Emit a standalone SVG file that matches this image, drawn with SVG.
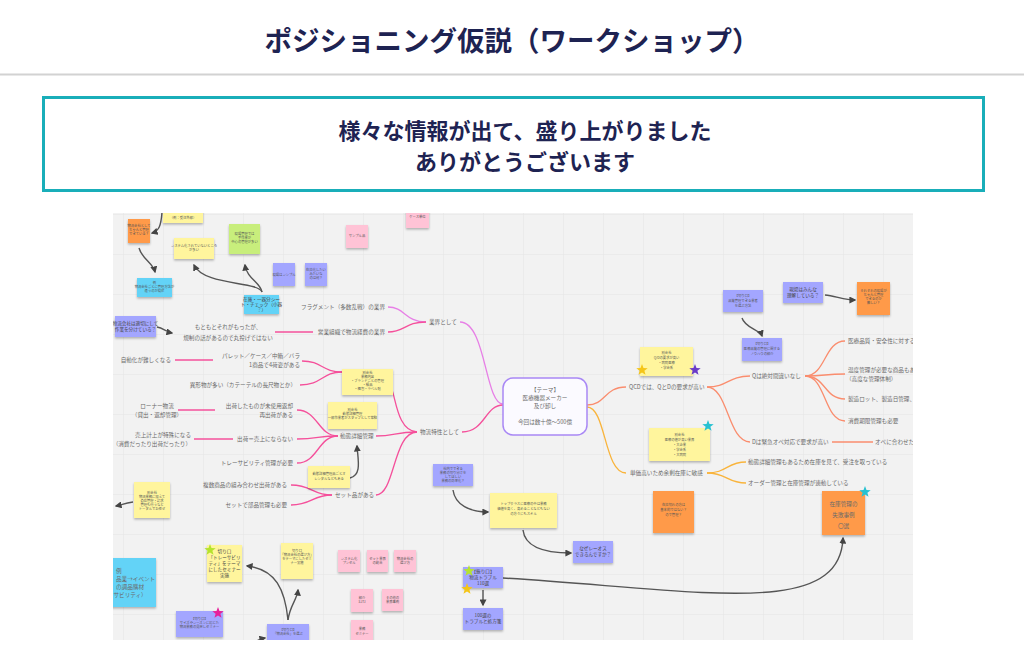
<svg xmlns="http://www.w3.org/2000/svg" width="1024" height="659" viewBox="0 0 1024 659">
<defs>
<style>
.title{font-family:"Noto Sans CJK JP","Noto Sans",sans-serif;font-weight:700;fill:#1e2352}
.lbl{font-family:"Noto Sans CJK JP","Noto Sans",sans-serif;font-size:5.6px;fill:#6a6a6a}
.tiny{font-family:"Noto Sans CJK JP","Noto Sans",sans-serif;font-size:3.3px;fill:#555;text-anchor:middle}
.mid{font-family:"Noto Sans CJK JP","Noto Sans",sans-serif;font-size:4.6px;fill:#444;text-anchor:middle}
.y{fill:#fff59d}.o{fill:#ff9a4a}.b{fill:#a3a6ff}.c{fill:#63d3f7}.g{fill:#c8ee7c}.p{fill:#ffc3d6}
.st{filter:url(#sh)}
.pk{fill:none;stroke:#f5509b;stroke-width:1.3}
.vi{fill:none;stroke:#e77fe6;stroke-width:1.3}
.sa{fill:none;stroke:#fa8d6e;stroke-width:1.3}
.am{fill:none;stroke:#f9b43c;stroke-width:1.3}
.ar{fill:none;stroke:#555;stroke-width:1.4;marker-end:url(#ah)}
</style>
<pattern id="grid" width="40" height="40" patternUnits="userSpaceOnUse" x="3" y="14">
<path d="M40,0 L0,0 0,40" fill="none" stroke="#e3e3e3" stroke-width="1"/>
</pattern>
<filter id="sh" x="-20%" y="-20%" width="140%" height="150%">
<feDropShadow dx="0" dy="1.5" stdDeviation="1" flood-color="#000" flood-opacity="0.28"/>
</filter>
<marker id="ah" viewBox="0 0 10 10" refX="8" refY="5" markerWidth="5" markerHeight="5" orient="auto">
<path d="M0,0 L10,5 L0,10 z" fill="#444"/>
</marker>
<polygon id="star" points="0,-6 1.47,-2.02 5.71,-1.85 2.38,0.77 3.53,4.85 0,2.5 -3.53,4.85 -2.38,0.77 -5.71,-1.85 -1.47,-2.02"/>
<clipPath id="cv"><rect x="113" y="213" width="800" height="427"/></clipPath>
</defs>

<rect width="1024" height="659" fill="#fff"/>

<g id="header">
<text class="title" x="512" y="51" font-size="27.5" text-anchor="middle">ポジショニング仮説（ワークショップ）</text>
<line x1="0" y1="74.5" x2="1024" y2="74.5" stroke="#d2d2d2" stroke-width="2"/>
</g>

<g id="message">
<rect x="43.5" y="97.5" width="940" height="93" fill="#fff" stroke="#19aeb9" stroke-width="3"/>
<text class="title" x="525" y="139" font-size="22" text-anchor="middle">様々な情報が出て、盛り上がりました</text>
<text class="title" x="525" y="170" font-size="22" text-anchor="middle">ありがとうございます</text>
</g>

<g id="board" clip-path="url(#cv)">
<rect x="113" y="213" width="800" height="427" fill="#f2f2f2"/>
<rect x="113" y="213" width="800" height="427" fill="url(#grid)"/>

<g id="connectors">
<path class="vi" d="M503,404 C485,404 486,322 460,322"/>
<path class="vi" d="M426,322 C405,322 405,307 388,307"/>
<path class="pk" d="M426,322 C405,322 405,332 388,332"/>
<path class="pk" d="M313,332 L275,332"/>
<path class="pk" d="M503,405 C485,405 485,432 462,432"/>
<path class="pk" d="M417,432 C398,431 396,400 392,390"/>
<path class="pk" d="M417,432 C395,432 395,436 376,436"/>
<path class="pk" d="M417,432 C393,432 395,495 376,495"/>
<path class="pk" d="M302,361 C322,361 322,372 342,372"/>
<path class="pk" d="M300,385 C322,385 322,372 342,372"/>
<path class="pk" d="M297,410 C318,410 318,436 338,436"/>
<path class="pk" d="M297,439 C318,439 318,436 338,436"/>
<path class="pk" d="M297,463 C318,463 318,436 338,436"/>
<path class="pk" d="M291,485 C312,485 312,495 332,495"/>
<path class="pk" d="M291,505 C312,505 312,495 332,495"/>
<path class="pk" d="M178,410 L215,410"/>
<path class="pk" d="M194,439 L233,439"/>
<path class="pk" d="M175,360 L213,360"/>
<path class="sa" d="M587,405 C606,405 604,387 626,387"/>
<path class="sa" d="M707,387 C728,387 728,376 750,376"/>
<path class="sa" d="M707,387 C728,387 728,442 750,442"/>
<path class="sa" d="M805,376 C826,376 824,341 845,341"/>
<path class="sa" d="M805,376 C826,376 824,374 845,374"/>
<path class="sa" d="M805,376 C826,376 824,399 845,399"/>
<path class="sa" d="M805,376 C826,376 824,421 845,421"/>
<path class="sa" d="M832,442 L873,442"/>
<path class="am" d="M587,407 C606,407 604,473 626,473"/>
<path class="am" d="M707,473 C727,473 727,462 746,462"/>
<path class="am" d="M707,473 C727,473 727,483 746,483"/>
<path class="ar" d="M162,212 C161,226 159,231 152,233"/>
<path class="ar" d="M139,248 C142,259 153,263 155,272"/>
<path class="ar" d="M262,292 C260,282 247,279 245,265"/>
<path class="ar" d="M262,292 C258,281 204,286 194,265"/>
<path class="ar" d="M157,327 C163,328 167,332 172,333"/>
<path class="ar" d="M350,478 C362,475 358,460 357,446"/>
<path class="ar" d="M133,502 C125,503 121,505 116,506"/>
<path class="ar" d="M288,620 C285,590 276,569 247,566"/>
<path class="ar" d="M288,620 C290,605 297,600 298,590"/>
<path class="ar" d="M252,645 C256,640 260,639 265,638"/>
<path class="ar" d="M453,490 C455,505 470,512 488,512"/>
<path class="ar" d="M523,530 C525,548 545,553 571,553"/>
<path class="ar" d="M483,590 L483,605"/>
<path class="ar" d="M503,578 C700,590 840,620 843,538"/>
<path class="ar" d="M742,318 C745,328 760,330 762,336"/>
<path class="ar" d="M825,295 C835,296 845,300 855,300"/>
</g>

<g id="center">
<rect x="503" y="378" width="84" height="57" rx="10" fill="#fbfaff" stroke="#a988f5" stroke-width="1.5"/>
<text class="lbl" x="545" y="392" text-anchor="middle">【テーマ】</text>
<text class="lbl" x="545" y="400" text-anchor="middle">医療機器メーカー</text>
<text class="lbl" x="545" y="408" text-anchor="middle">及び卸し</text>
<text class="lbl" x="545" y="424" text-anchor="middle">今回は数十億～500億</text>
</g>

<g id="labels-left">
<text class="lbl" x="429" y="324">業界として</text>
<text class="lbl" x="385" y="309" text-anchor="end">フラグメント（多数乱戦）の業界</text>
<text class="lbl" x="385" y="334" text-anchor="end">営業組織で物流経費の業界</text>
<text class="lbl" x="228" y="329" text-anchor="middle">もともとそれがもったが、</text>
<text class="lbl" x="228" y="340" text-anchor="middle">規制の話があるので丸投げではない</text>
<text class="lbl" x="420" y="434">物流特性として</text>
<text class="lbl" x="300" y="358" text-anchor="end">パレット／ケース／中箱／バラ</text>
<text class="lbl" x="300" y="367" text-anchor="end">1商品で4荷姿がある</text>
<text class="lbl" x="296" y="387" text-anchor="end">異形物が多い（カテーテルの長尺物とか）</text>
<text class="lbl" x="171" y="362" text-anchor="end">自動化が難しくなる</text>
<text class="lbl" x="293" y="408" text-anchor="end">出荷したものが未使用返却</text>
<text class="lbl" x="293" y="417" text-anchor="end">再出荷がある</text>
<text class="lbl" x="157" y="408" text-anchor="middle">ローナー物流</text>
<text class="lbl" x="157" y="417" text-anchor="middle">（貸出・返却管理）</text>
<text class="lbl" x="293" y="441" text-anchor="end">出荷＝売上にならない</text>
<text class="lbl" x="191" y="437" text-anchor="end">売上計上が特殊になる</text>
<text class="lbl" x="191" y="446" text-anchor="end">（消費だったり出荷だったり）</text>
<text class="lbl" x="293" y="465" text-anchor="end">トレーサビリティ管理が必要</text>
<text class="lbl" x="340" y="438">動態詳細管理</text>
<text class="lbl" x="287" y="487" text-anchor="end">複数商品の組み合わせ出荷がある</text>
<text class="lbl" x="287" y="507" text-anchor="end">セットで部品管理も必要</text>
<text class="lbl" x="335" y="497">セット品がある</text>
</g>

<g id="labels-right">
<text class="lbl" x="629" y="389">QCDでは、QとDの要求が高い</text>
<text class="lbl" x="752" y="378">Qは絶対間違いなし</text>
<text class="lbl" x="752" y="444">Dは緊急オペ対応で要求が高い</text>
<text class="lbl" x="848" y="343">医療品質・安全性に対する要求</text>
<text class="lbl" x="848" y="372">温度管理が必要な商品もある</text>
<text class="lbl" x="846" y="381">（高度な管理体制）</text>
<text class="lbl" x="848" y="401">製造ロット、製造日管理、</text>
<text class="lbl" x="848" y="423">消費期限管理も必要</text>
<text class="lbl" x="875" y="444">オペに合わせた対応</text>
<text class="lbl" x="630" y="475">単価高いため余剰在庫に敏感</text>
<text class="lbl" x="748" y="464">動態詳細管理もあるため在庫を見て、受注を取っている</text>
<text class="lbl" x="748" y="485">オーダー管理と在庫管理が連動している</text>
</g>

<g id="sticky-top-left">
<rect class="y st" x="163" y="204" width="40" height="19"/>
<text class="tiny" x="183" y="219">（例：受注外部）</text>
<rect class="o st" x="128" y="219" width="22" height="24"/>
<text class="tiny" x="139" y="227">物流会社として</text><text class="tiny" x="139" y="231">ちゃんと管理</text><text class="tiny" x="139" y="235">できている？</text>
<rect class="c st" x="137" y="278" width="35" height="19"/>
<text class="tiny" x="154.5" y="284">例</text><text class="tiny" x="154.5" y="288">物流会社ごとに管理方法が</text><text class="tiny" x="154.5" y="292">違うのが現状</text>
<rect class="y st" x="174" y="238" width="40" height="21"/>
<text class="tiny" x="194" y="247">システム化されていないところ</text><text class="tiny" x="194" y="251">が多い</text>
<rect class="g st" x="229" y="224" width="31" height="30"/>
<text class="tiny" x="244.5" y="235">現場管理では</text><text class="tiny" x="244.5" y="239">手作業が</text><text class="tiny" x="244.5" y="243">中心の管理が多い</text>
<rect class="c st" x="244" y="295" width="35" height="19"/>
<text class="mid" x="261.5" y="301" font-size="3.6">在庫・一器分シー</text><text class="mid" x="261.5" y="306" font-size="3.6">ト・チェック（小器</text><text class="mid" x="261.5" y="311" font-size="3.6">？）</text>
<rect class="b st" x="273" y="263" width="22" height="23"/>
<text class="tiny" x="284" y="276">現場はシンプル</text>
<rect class="b st" x="305" y="263" width="22" height="23"/>
<text class="tiny" x="316" y="271">在庫化したい</text><text class="tiny" x="316" y="275">みたいな</text><text class="tiny" x="316" y="279">のは何？</text>
<rect class="b st" x="115" y="316" width="41" height="21"/>
<text class="mid" x="135.5" y="325" font-size="3.6">物流会社は適切にして</text><text class="mid" x="135.5" y="331" font-size="3.6">作業を分けている？</text>
<rect class="p st" x="346" y="225" width="22" height="23"/>
<text class="tiny" x="357" y="237">サンプル品</text>
<rect class="p st" x="406" y="208" width="23" height="20"/>
<text class="tiny" x="417.5" y="218">ケース単位</text>
</g>

<g id="sticky-left-mid">
<rect class="y st" x="342" y="369" width="51" height="26"/>
<text class="tiny" x="367.5" y="374">別会社</text><text class="tiny" x="367.5" y="378">業務内容</text><text class="tiny" x="367.5" y="382">・ブランドごとの管理</text><text class="tiny" x="367.5" y="386">・検品</text><text class="tiny" x="367.5" y="390">・梱包・ラベル貼</text>
<rect class="y st" x="328" y="402" width="49" height="27"/>
<text class="tiny" x="352.5" y="411">別会社</text><text class="tiny" x="352.5" y="415">動態詳細管理</text><text class="tiny" x="352.5" y="419">一部作業者がスタッフとして常駐</text>
<rect class="y st" x="308" y="466" width="42" height="22"/>
<text class="tiny" x="329" y="475">動態詳細管理品ごとオ</text><text class="tiny" x="329" y="480">レンタルなどもある</text>
</g>

<g id="sticky-left-bottom">
<rect class="y st" x="134" y="482" width="36" height="36"/>
<text class="tiny" x="152" y="494">別会社</text><text class="tiny" x="152" y="498">物流業務に加えて</text><text class="tiny" x="152" y="502">倉庫管理・請求</text><text class="tiny" x="152" y="506">管理も行うなど</text><text class="tiny" x="152" y="510">トータルでお任せ</text>
<rect class="c st" x="100" y="558" width="56" height="49"/>
<text class="lbl" x="116" y="573" font-size="5.2">例</text>
<text class="lbl" x="116" y="581" font-size="5.2">品業→イベント</text>
<text class="lbl" x="116" y="589" font-size="5.2">の調品購材</text>
<text class="lbl" x="108" y="597" font-size="5.2">ーサビリティ）</text>
<rect class="y st" x="207" y="545" width="35" height="37"/>
<text class="mid" x="224.5" y="553" font-size="4.2">切り口</text><text class="mid" x="224.5" y="559" font-size="4.2">「トレーサビリ</text><text class="mid" x="224.5" y="565" font-size="4.2">ティ」をテーマ</text><text class="mid" x="224.5" y="571" font-size="4.2">にしたセミナー</text><text class="mid" x="224.5" y="577" font-size="4.2">実施</text>
<rect class="y st" x="281" y="543" width="32" height="36"/>
<text class="tiny" x="297" y="552">切り口</text><text class="tiny" x="297" y="556">「物流会社の選び方」</text><text class="tiny" x="297" y="560">をテーマにしたセミ</text><text class="tiny" x="297" y="564">ナー実施</text>
<rect class="b st" x="176" y="611" width="47" height="26"/>
<text class="tiny" x="199.5" y="620">【切り口】</text><text class="tiny" x="199.5" y="624">サイズやシーズンに応じた</text><text class="tiny" x="199.5" y="628">物流業務の見直しセミナー</text>
<rect class="b st" x="267" y="624" width="42" height="22"/>
<text class="tiny" x="288" y="631">【切り口】</text><text class="tiny" x="288" y="635">「物流会社」を選ぶ</text>
</g>

<g id="sticky-pink-bottom">
<rect class="p st" x="338" y="550" width="22" height="22"/>
<text class="tiny" x="349" y="560">システム化</text><text class="tiny" x="349" y="564">プンセル</text>
<rect class="p st" x="367" y="550" width="21" height="22"/>
<text class="tiny" x="377.5" y="560">セット業界</text><text class="tiny" x="377.5" y="564">の割合</text>
<rect class="p st" x="394" y="550" width="22" height="22"/>
<text class="tiny" x="405" y="560">物流会社の</text><text class="tiny" x="405" y="564">選び方</text>
<rect class="p st" x="351" y="589" width="22" height="23"/>
<text class="tiny" x="362" y="599">紹介</text><text class="tiny" x="362" y="603">SJTJ</text>
<rect class="p st" x="382" y="589" width="21" height="22"/>
<text class="tiny" x="392.5" y="599">その他の</text><text class="tiny" x="392.5" y="603">業界事例</text>
<rect class="p st" x="351" y="620" width="22" height="24"/>
<text class="tiny" x="362" y="630">業務</text><text class="tiny" x="362" y="635">セミナー</text>
</g>

<g id="sticky-bottom-center">
<rect class="b st" x="433" y="464" width="40" height="22"/>
<text class="tiny" x="453" y="470">社内でできる</text><text class="tiny" x="453" y="474">業務の切り分けを</text><text class="tiny" x="453" y="478">してほしい</text><text class="tiny" x="453" y="482">業務の効率化？</text>
<rect class="y st" x="490" y="493" width="67" height="35"/>
<text class="tiny" x="523.5" y="505">トップクラスに医療の中は業務</text><text class="tiny" x="523.5" y="510">価値を高く、高めることなどもない</text><text class="tiny" x="523.5" y="515">の方々にもスキル</text>
<rect class="b st" x="573" y="541" width="40" height="22"/>
<text class="mid" x="593" y="550" font-size="3.8">なぜレーオス</text><text class="mid" x="593" y="556" font-size="3.8">できるんですか？</text>
<rect class="b st" x="463" y="567" width="40" height="21"/>
<text class="mid" x="483" y="573" font-size="4.2">【振り口】</text><text class="mid" x="483" y="579" font-size="4.2">物流トラブル</text><text class="mid" x="483" y="585" font-size="4.2">110選</text>
<rect class="b st" x="463" y="608" width="40" height="22"/>
<text class="mid" x="483" y="617" font-size="4.2">100選の</text><text class="mid" x="483" y="623" font-size="4.2">トラブルと処方箋</text>
<use href="#star" x="469" y="571" fill="#b5e32e"/>
<use href="#star" x="467" y="589" fill="#f5c518"/>
</g>

<g id="sticky-right">
<rect class="y st" x="640" y="347" width="53" height="29"/>
<text class="tiny" x="666.5" y="354">別会社</text><text class="tiny" x="666.5" y="359">Q/Dの要求が高い</text><text class="tiny" x="666.5" y="364">・病院医療</text><text class="tiny" x="666.5" y="369">・学会系</text>
<use href="#star" x="642" y="370" fill="#f5c518"/>
<use href="#star" x="695" y="370" fill="#6a3cc8"/>
<rect class="y st" x="649" y="428" width="61" height="33"/>
<text class="tiny" x="679.5" y="436">別会社</text><text class="tiny" x="679.5" y="441">医療の値が高い業界</text><text class="tiny" x="679.5" y="446">・大企業</text><text class="tiny" x="679.5" y="451">・学会系</text><text class="tiny" x="679.5" y="456">・大病院</text>
<use href="#star" x="708" y="426" fill="#27c1d1"/>
<rect class="b st" x="723" y="290" width="40" height="22"/>
<text class="tiny" x="743" y="297">【切り口】</text><text class="tiny" x="743" y="302">品質管理できる業者</text><text class="tiny" x="743" y="307">を選ぶ方法</text>
<rect class="b st" x="742" y="338" width="40" height="23"/>
<text class="tiny" x="762" y="345">【切り口】</text><text class="tiny" x="762" y="350">医療品質の管理に関する</text><text class="tiny" x="762" y="355">ノウハウの紹介</text>
<rect class="b st" x="783" y="282" width="40" height="21"/>
<text class="mid" x="803" y="291" font-size="3.8">現場はみんな</text><text class="mid" x="803" y="297" font-size="3.8">理解している？</text>
<rect class="o st" x="857" y="282" width="33" height="33"/>
<text class="tiny" x="873.5" y="292">それぞれの現場が</text><text class="tiny" x="873.5" y="296">ちゃんと管理</text><text class="tiny" x="873.5" y="300">できるのか</text><text class="tiny" x="873.5" y="304">難しい？</text>
<rect class="o st" x="653" y="491" width="41" height="42"/>
<text class="tiny" x="673.5" y="506">在庫切れの方は</text><text class="tiny" x="673.5" y="511">基本的ではない？</text><text class="tiny" x="673.5" y="516">ので管理？</text>
<rect class="o st" x="822" y="491" width="43" height="44"/>
<text class="lbl" x="843.5" y="506" font-size="8.5" fill="#555" text-anchor="middle">在庫管理の</text>
<text class="lbl" x="843.5" y="517" font-size="8.5" fill="#555" text-anchor="middle">失敗事例</text>
<text class="lbl" x="843.5" y="528" font-size="8.5" fill="#555" text-anchor="middle">〇選</text>
<use href="#star" x="865" y="492" fill="#27c1d1"/>
</g>

<g id="stars-left">
<use href="#star" x="210" y="550" fill="#b5e32e"/>
<use href="#star" x="218" y="613" fill="#e6219b"/>
</g>
</g>
</svg>
